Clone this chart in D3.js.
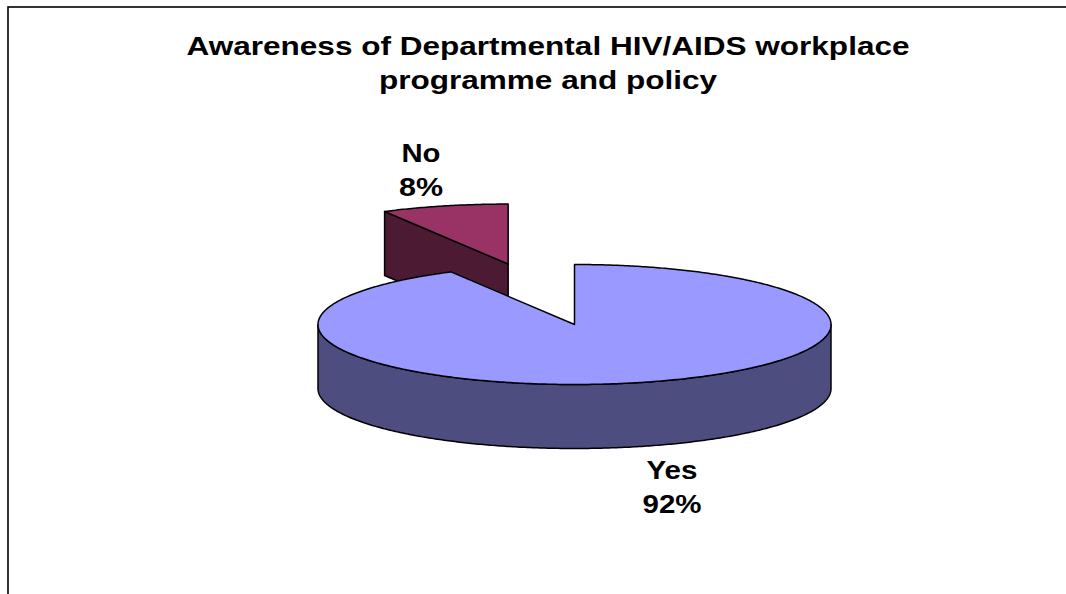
<!DOCTYPE html>
<html>
<head>
<meta charset="utf-8">
<script src="https://cdn.jsdelivr.net/npm/d3@7"></script>
<style>
  html, body { margin: 0; padding: 0; background: #fff; }
  svg { display: block; }
  text { font-family: "Liberation Sans", Arial, sans-serif; font-weight: bold; fill: #000; }
</style>
</head>
<body>
<svg id="chart" width="1066" height="594"></svg>
<script>
// Survey answers and their shares (percent)
const categories = ["Yes", "No"];
const values = [92, 8];
const titleLines = ["Awareness of Departmental HIV/AIDS workplace", "programme and policy"];

// Fill colours: top face and darker side face per slice
const topColors = ["#9999FF", "#993366"];
const sideColors = ["#4D4D80", "#4D1A33"];

const W = 1066, H = 594;
const svg = d3.select("#chart");

// Chart area frame
svg.append("rect")
  .attr("x", 8).attr("y", 7)
  .attr("width", W + 20).attr("height", H + 20)
  .attr("fill", "#fff").attr("stroke", "#000").attr("stroke-width", 1.6);

// Title
const titleWidths = [723, 338];
titleLines.forEach((t, i) => {
  svg.append("text")
    .attr("x", 548).attr("y", 55 + i * 34)
    .attr("text-anchor", "middle")
    .attr("font-size", 26.5)
    .attr("textLength", titleWidths[i])
    .attr("lengthAdjust", "spacingAndGlyphs")
    .text(t);
});

// 3D pie geometry (ellipse projection)
const cx = 574.5, cy = 324.5, rx = 256.5, ry = 60, depth = 64;
const explodeNo = 1.04;

const pie = d3.pie().sort(null).startAngle(0).endAngle(2 * Math.PI);
const arcs = pie(values);

// angle convention: 0 at 12 o'clock, clockwise
const proj = (c, a) => [c[0] + rx * Math.sin(a), c[1] - ry * Math.cos(a)];
const down = p => [p[0], p[1] + depth];
const arcPts = (c, a0, a1) => {
  const n = Math.max(2, Math.ceil(Math.abs(a1 - a0) / 0.01));
  return d3.range(n + 1).map(i => proj(c, a0 + (a1 - a0) * i / n));
};
const line = d3.line().curve(d3.curveLinear);
const closed = pts => line(pts) + "Z";

const strokeW = 1.5;
const g = svg.append("g").attr("stroke", "#000").attr("stroke-width", strokeW).attr("stroke-linejoin", "round");

// Slice centres (the small slice is pulled out along its mid-angle)
const centers = arcs.map((d, i) => {
  if (i === 0) return [cx, cy];
  const mid = (d.startAngle + d.endAngle) / 2;
  return [cx + explodeNo * rx * Math.sin(mid), cy - explodeNo * ry * Math.cos(mid)];
});

// --- "No" slice (behind) ---
{
  const d = arcs[1], c = centers[1];
  const pStart = proj(c, d.startAngle);
  // radial face along the start edge, facing the viewer
  g.append("path")
    .attr("d", closed([c, pStart, down(pStart), down(c)]))
    .attr("fill", sideColors[1]);
  // top face
  g.append("path")
    .attr("d", closed([c, ...arcPts(c, d.startAngle, d.endAngle)]))
    .attr("fill", topColors[1]);
}

// --- "Yes" slice (front) ---
{
  const d = arcs[0], c = centers[0];
  // visible outer wall: front half of the ellipse
  const a0 = Math.max(d.startAngle, Math.PI / 2);
  const a1 = Math.min(d.endAngle, 3 * Math.PI / 2);
  const topEdge = arcPts(c, a0, a1);
  const botEdge = topEdge.map(down).reverse();
  g.append("path")
    .attr("d", closed([...topEdge, ...botEdge]))
    .attr("fill", sideColors[0]);
  // top face
  g.append("path")
    .attr("d", closed([c, ...arcPts(c, d.startAngle, d.endAngle)]))
    .attr("fill", topColors[0]);
}

// Data labels
const labelPos = [
  { x: 672, y: 479, w: [51, 59] },
  { x: 421, y: 162, w: [39, 44] }
];
categories.forEach((cat, i) => {
  const lp = labelPos[i];
  [cat, values[i] + "%"].forEach((t, j) => {
    svg.append("text")
      .attr("x", lp.x).attr("y", lp.y + j * 34)
      .attr("text-anchor", "middle")
      .attr("font-size", 26)
      .attr("textLength", lp.w[j])
      .attr("lengthAdjust", "spacingAndGlyphs")
      .text(t);
  });
});
</script>
</body>
</html>
